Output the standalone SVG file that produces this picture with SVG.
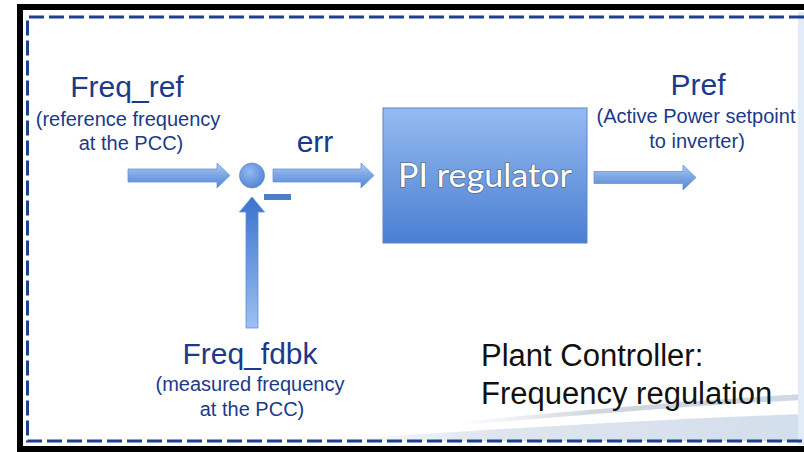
<svg xmlns="http://www.w3.org/2000/svg" width="804" height="452" viewBox="0 0 804 452">
  <defs>
    <linearGradient id="gH" x1="0" y1="0" x2="0" y2="1">
      <stop offset="0" stop-color="#b0cdf4"/>
      <stop offset="0.45" stop-color="#7ea8e6"/>
      <stop offset="1" stop-color="#5686d3"/>
    </linearGradient>
    <linearGradient id="gV" x1="0" y1="0" x2="0" y2="1">
      <stop offset="0" stop-color="#3a73cc"/>
      <stop offset="1" stop-color="#9cc0f2"/>
    </linearGradient>
    <linearGradient id="gBox" x1="0" y1="0" x2="0" y2="1">
      <stop offset="0" stop-color="#96bbf1"/>
      <stop offset="1" stop-color="#4a7fd2"/>
    </linearGradient>
    <radialGradient id="gCirc" cx="0.4" cy="0.35" r="0.7">
      <stop offset="0" stop-color="#94b9f0"/>
      <stop offset="1" stop-color="#4f83d2"/>
    </radialGradient>
    <linearGradient id="gSwoosh" x1="0" y1="0" x2="1" y2="0">
      <stop offset="0" stop-color="#d6dfea" stop-opacity="0"/>
      <stop offset="0.35" stop-color="#d6dfea" stop-opacity="0.8"/>
      <stop offset="1" stop-color="#d3deec"/>
    </linearGradient>
    <linearGradient id="gStreak" x1="0" y1="0" x2="1" y2="0">
      <stop offset="0" stop-color="#c5ccd6" stop-opacity="0"/>
      <stop offset="0.4" stop-color="#c5ccd6" stop-opacity="0.8"/>
      <stop offset="1" stop-color="#d0d8e4"/>
    </linearGradient>
  </defs>
  <style>
    .arr { fill: url(#gH); stroke: #6b95d5; stroke-width: 0.8; }
    .lbl { font-family: "Liberation Sans", Arial, sans-serif; fill: #1b3a8a; text-anchor: middle; }
    .big { font-size: 30px; }
    .sub { font-size: 20px; }
    .note { font-family: "Liberation Sans", Arial, sans-serif; font-size: 31px; fill: #111; }
    .dash { fill: none; stroke: #1f3f8f; stroke-width: 3; stroke-dasharray: 15 5; }
  </style>

  <rect x="0" y="0" width="804" height="452" fill="#ffffff"/>

  <!-- background swoosh -->
  <g id="background">
    <path d="M 320,441 C 480,430 640,420 804,414 L 804,441 Z" fill="url(#gSwoosh)"/>
    <path d="M 460,422 C 600,408 700,400 804,394 L 804,400 C 700,405 600,414 460,425 Z" fill="url(#gStreak)"/>
    <rect x="798" y="12" width="6" height="433" fill="#e2ebf8"/>
  </g>

  <!-- frame -->
  <g id="frame">
    <rect x="17" y="4" width="787" height="6" fill="#000"/>
    <rect x="17" y="4" width="6" height="448" fill="#000"/>
    <rect x="17" y="446" width="787" height="6" fill="#000"/>
    <path class="dash" d="M 804,17 H 27.5 V 441 H 804"/>
  </g>

  <!-- connectors -->
  <g id="connectors">
    <path class="arr" d="M128,169 H217 V163 L230,175.5 L217,188 V182 H128 Z"/>
    <path class="arr" d="M273,169 H361 V163 L374,175.5 L361,188 V182 H273 Z"/>
    <path class="arr" d="M594,171.5 H683 V165 L696,177.5 L683,190 V183.5 H594 Z"/>
    <path d="M246,328 V212 H239.5 L252,197 L264.5,212 H258 V328 Z" fill="url(#gV)" stroke="#5f8dd3" stroke-width="0.8"/>
  </g>

  <!-- summing junction -->
  <g id="sum">
    <circle cx="252" cy="175.5" r="12.5" fill="url(#gCirc)" stroke="#5f8dd3" stroke-width="0.8"/>
    <rect x="264" y="194" width="27" height="6" fill="#4d7fc8"/>
  </g>

  <!-- PI regulator -->
  <g id="pi">
    <rect x="383" y="108" width="204" height="135" fill="url(#gBox)" stroke="#5a86c8" stroke-width="1"/>
    <text x="485" y="187" font-family="Lato, 'Open Sans', sans-serif" font-size="32" fill="#ffffff" stroke="#4a4a4a" stroke-opacity="0.55" stroke-width="1.6" paint-order="stroke" text-anchor="middle" textLength="174" lengthAdjust="spacingAndGlyphs">PI regulator</text>
  </g>

  <!-- labels -->
  <g id="freq_ref">
    <text class="lbl big" x="127" y="97">Freq_ref</text>
    <text class="lbl sub" x="128" y="126">(reference frequency</text>
    <text class="lbl sub" x="131" y="150">at the PCC)</text>
  </g>
  <g id="err">
    <text class="lbl big" x="315" y="152">err</text>
  </g>
  <g id="pref">
    <text class="lbl big" x="698" y="95">Pref</text>
    <text class="lbl sub" x="696" y="123">(Active Power setpoint</text>
    <text class="lbl sub" x="697" y="148">to inverter)</text>
  </g>
  <g id="freq_fdbk">
    <text class="lbl big" x="250" y="364">Freq_fdbk</text>
    <text class="lbl sub" x="250" y="391">(measured frequency</text>
    <text class="lbl sub" x="252" y="416">at the PCC)</text>
  </g>
  <g id="title">
    <text class="note" x="481" y="366">Plant Controller:</text>
    <text class="note" x="481" y="404">Frequency regulation</text>
  </g>
</svg>
